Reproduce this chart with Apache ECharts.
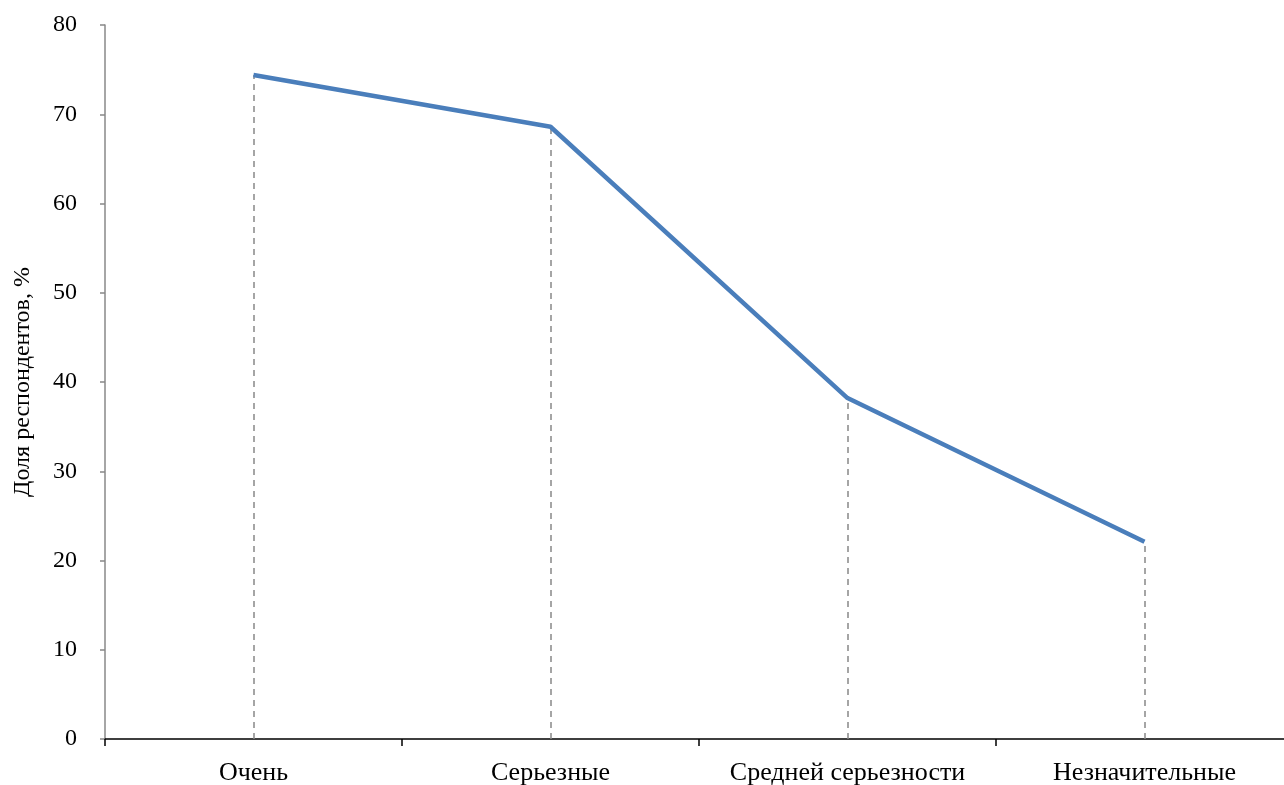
<!DOCTYPE html>
<html>
<head>
<meta charset="utf-8">
<script src="https://cdn.jsdelivr.net/npm/echarts@6/dist/echarts.min.js"></script>
<style>
html,body{margin:0;padding:0;background:#fff;}
#chart{width:1284px;height:785px;}
</style>
</head>
<body>
<div id="chart"></div>
<script>
const categories = ['Очень', 'Серьезные', 'Средней серьезности', 'Незначительные'];
const values = [74.4, 68.6, 38.2, 22.1];
const yTicks = { min: 0, max: 80, interval: 10 };
const yAxisTitle = 'Доля респондентов, %';

const font = 'Liberation Serif';
const chart = echarts.init(document.getElementById('chart'));
chart.setOption({
  animation: false,
  grid: { left: 105, right: -9, top: 25, bottom: 46, outerBoundsMode: 'none', containLabel: false },
  xAxis: {
    type: 'category',
    data: categories,
    boundaryGap: true,
    axisLine: { lineStyle: { color: '#000', width: 1.5 } },
    axisTick: { show: true, interval: 0, length: 7, lineStyle: { color: '#000', width: 1.5 } },
    axisLabel: { interval: 0, hideOverlap: false, color: '#000', fontFamily: font, fontSize: 26, margin: 21 },
    splitLine: { show: false }
  },
  yAxis: {
    type: 'value',
    min: yTicks.min, max: yTicks.max, interval: yTicks.interval,
    name: yAxisTitle,
    nameLocation: 'middle',
    nameGap: 70,
    nameRotate: 90,
    nameTextStyle: { color: '#000', fontFamily: font, fontSize: 24 },
    axisLine: { show: true, lineStyle: { color: '#888', width: 1.5 } },
    axisTick: { show: true, length: 5, lineStyle: { color: '#888', width: 1.5 } },
    axisLabel: { color: '#000', fontFamily: font, fontSize: 24, margin: 28 },
    splitLine: { show: false }
  },
  series: [{
    type: 'line',
    data: values,
    symbol: 'none',
    lineStyle: { color: '#4a7ebb', width: 4.5 },
    z: 3,
    markLine: {
      silent: true,
      symbol: ['none', 'none'],
      label: { show: false },
      lineStyle: { color: '#888', type: [6, 5], width: 1.5 },
      z: 1,
      data: categories.map((c, i) => [
        { coord: [i, 0] },
        { coord: [i, values[i]] }
      ])
    }
  }]
});
</script>
</body>
</html>
